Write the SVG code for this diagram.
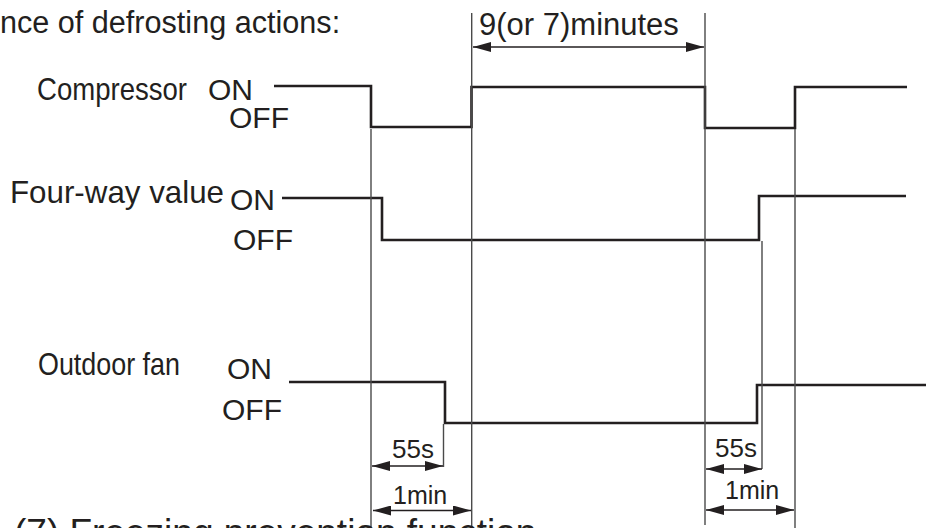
<svg xmlns="http://www.w3.org/2000/svg" width="926" height="528" viewBox="0 0 926 528">
<style>
text{font-family:"Liberation Sans",Arial,sans-serif;fill:#231f20}
.lb{font-size:30px}
.big{font-size:31px}
.sm{font-size:26px}
.sig{fill:none;stroke:#231f20;stroke-width:2.6;stroke-linejoin:miter}
.ref{fill:none;stroke:#4a4a4a;stroke-width:1.4}
.dim{fill:none;stroke:#231f20;stroke-width:1.4}
</style>
<defs>
<marker id="ah" viewBox="0 0 18 10" refX="18" refY="5" markerWidth="18" markerHeight="10" markerUnits="userSpaceOnUse" orient="auto-start-reverse">
<path d="M0,0 L18,5 L0,10 Z" fill="#231f20"/>
</marker>
</defs>
<rect width="926" height="528" fill="#fff"/>
<text x="0" y="33" style="font-size:30.6px">nce of defrosting actions:</text>
<g id="compressor">
<text x="37" y="100" style="font-size:30.5px" textLength="150" lengthAdjust="spacingAndGlyphs">Compressor</text>
<text class="lb" x="208" y="100">ON</text>
<text class="lb" x="229" y="128">OFF</text>
<path class="sig" d="M274,86 H371 V127 H471.5 V87 H705 V128 H795 V87 H907"/>
</g>
<g id="fourway">
<text x="10" y="203" style="font-size:30.5px" textLength="214" lengthAdjust="spacingAndGlyphs">Four-way value</text>
<text class="lb" x="230" y="210">ON</text>
<text class="lb" x="233" y="250">OFF</text>
<path class="sig" d="M282,198 H382 V240 H759 V196 H906"/>
</g>
<g id="fan">
<text x="38" y="375" style="font-size:30.5px" textLength="142" lengthAdjust="spacingAndGlyphs">Outdoor fan</text>
<text class="lb" x="227" y="379">ON</text>
<text class="lb" x="222" y="420">OFF</text>
<path class="sig" d="M289,382 H445 V423 H757 V385 H926"/>
</g>
<g id="connectors">
<path class="ref" d="M371,129 V528 M471.7,13 V528 M705,13 V525 M795,129 V528 M762,241 V469 M443.5,424 V467"/>
<path class="dim" d="M473,47 H704" marker-start="url(#ah)" marker-end="url(#ah)"/>
<path class="dim" d="M372,466 H443" marker-start="url(#ah)" marker-end="url(#ah)"/>
<path class="dim" d="M373,510.5 H471" marker-start="url(#ah)" marker-end="url(#ah)"/>
<path class="dim" d="M706,469 H762" marker-start="url(#ah)" marker-end="url(#ah)"/>
<path class="dim" d="M706,510 H794" marker-start="url(#ah)" marker-end="url(#ah)"/>
</g>
<text class="big" x="479" y="35">9(or 7)minutes</text>
<text class="sm" x="392" y="458">55s</text>
<text class="sm" x="393" y="504" style="font-size:25px">1min</text>
<text class="sm" x="715" y="457">55s</text>
<text class="sm" x="725" y="499" style="font-size:25px">1min</text>
<text x="14" y="545" style="font-size:37px">(7) Freezing prevention function</text>
</svg>
